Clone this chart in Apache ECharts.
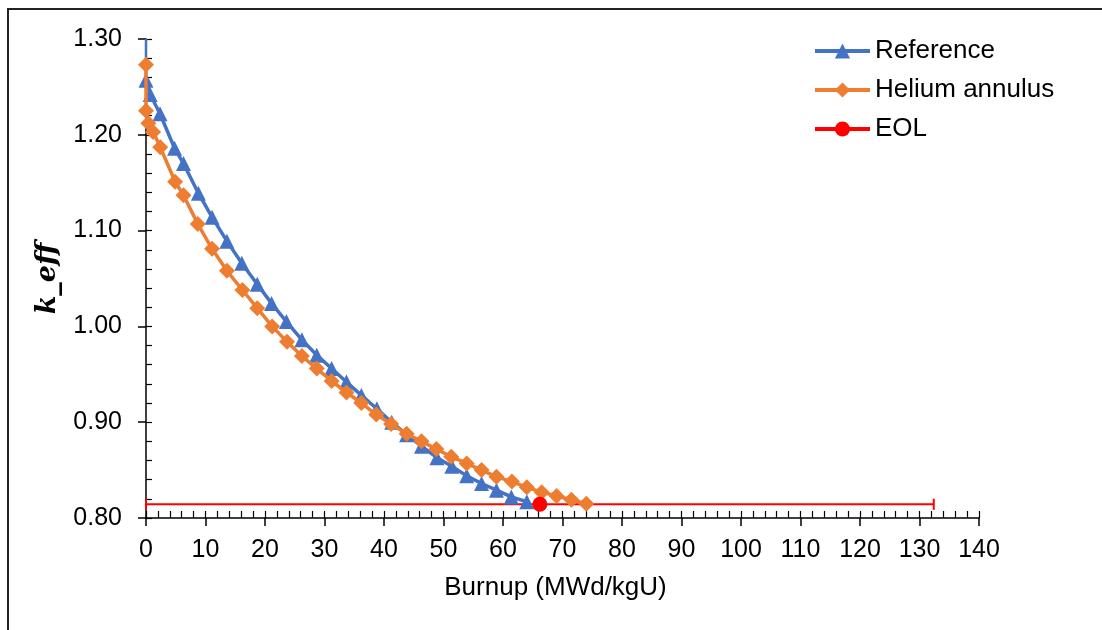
<!DOCTYPE html>
<html><head><meta charset="utf-8">
<script src="https://cdn.jsdelivr.net/npm/echarts@6/dist/echarts.min.js"></script>
<style>html,body{margin:0;padding:0;background:#fff}#c{width:1102px;height:630px}</style>
</head><body><div id="c"></div>
<script>
// Reference series (blue triangles)
const burnupRef = [0, 0.7, 2.35, 4.8, 6.3, 8.8, 11.1, 13.6, 16.1, 18.7, 21.1, 23.6, 26.2, 28.7, 31.2, 33.7, 36.2, 38.8, 41.3, 43.8, 46.3, 48.9, 51.4, 53.9, 56.4, 58.9, 61.4, 64.0];
const keffRef   = [1.257, 1.242, 1.222, 1.186, 1.170, 1.139, 1.114, 1.089, 1.066, 1.044, 1.024, 1.005, 0.986, 0.970, 0.956, 0.942, 0.928, 0.914, 0.900, 0.887, 0.875, 0.863, 0.854, 0.844, 0.836, 0.829, 0.822, 0.817];
// Helium annulus series (orange diamonds)
const burnupHe = [0, 0, 0.4, 1.2, 2.4, 4.9, 6.3, 8.7, 11.1, 13.6, 16.2, 18.7, 21.2, 23.7, 26.2, 28.7, 31.2, 33.7, 36.2, 38.7, 41.2, 43.8, 46.3, 48.8, 51.3, 53.9, 56.4, 58.9, 61.5, 64.0, 66.5, 69.0, 71.5, 74.0];
const keffHe   = [1.273, 1.225, 1.212, 1.203, 1.187, 1.151, 1.137, 1.107, 1.081, 1.058, 1.038, 1.019, 1.000, 0.984, 0.969, 0.956, 0.943, 0.931, 0.920, 0.908, 0.898, 0.888, 0.880, 0.872, 0.864, 0.857, 0.850, 0.843, 0.838, 0.832, 0.827, 0.823, 0.819, 0.815];
// EOL point with horizontal error bar
const eolBurnup = [66.2];
const eolKeff = [0.8143];
const eolErrLow = [0];
const eolErrHigh = [132.4];
// Vertical error bar on the first Reference point
const refBarBurnup = [0, 0];
const refBarKeff = [1.257, 1.30];

const zip = (a, b) => a.map((v, i) => [v, b[i]]);
const FONT = 'Liberation Sans, Arial, sans-serif';

const chart = echarts.init(document.getElementById('c'), null, {renderer: 'canvas'});
chart.setOption({
  animation: false,
  backgroundColor: '#fff',
  graphic: [{
    type: 'rect', z: -10, silent: true,
    shape: {x: 8, y: 9, width: 1200, height: 700},
    style: {fill: 'none', stroke: '#222', lineWidth: 2}
  }],
  grid: {left: 146, right: 123, top: 39, bottom: 112, containLabel: false},
  legend: {
    data: ['Reference', 'Helium annulus', 'EOL'],
    orient: 'vertical', left: 813, top: 38, padding: 0,
    itemWidth: 55, itemHeight: 19, itemGap: 13,
    lineStyle: {width: 4},
    textStyle: {fontSize: 26, fontFamily: FONT, color: '#000', lineHeight: 26}
  },
  xAxis: [{
    type: 'value', min: 0, max: 140, interval: 10,
    name: 'Burnup (MWd/kgU)', nameLocation: 'middle', nameGap: 57,
    nameTextStyle: {fontSize: 26, fontFamily: FONT, color: '#000', padding: [0, 14, 0, 0]},
    axisLine: {show: true, onZero: false, lineStyle: {color: '#000', width: 1.5}},
    axisTick: {show: true, inside: false, length: 8, lineStyle: {color: '#000', width: 1.5}},
    axisLabel: {fontSize: 25, fontFamily: FONT, color: '#000', margin: 20},
    splitLine: {show: false}
  }, {
    type: 'value', min: 0, max: 140, interval: 2, position: 'bottom',
    axisLine: {show: false},
    axisTick: {show: true, inside: true, length: 7, lineStyle: {color: '#000', width: 1.2}},
    axisLabel: {show: false}, splitLine: {show: false}
  }],
  yAxis: [{
    type: 'value', min: 0.8, max: 1.3, interval: 0.1,
    name: 'k_eff', nameLocation: 'middle', nameGap: 85,
    nameTextStyle: {fontSize: 27, fontFamily: 'DejaVu Serif, serif', fontStyle: 'italic', fontWeight: 'bold', color: '#000'},
    axisLine: {show: true, onZero: false, lineStyle: {color: '#000', width: 1.5}},
    axisTick: {show: true, inside: false, length: 8, lineStyle: {color: '#000', width: 1.5}},
    axisLabel: {fontSize: 25, fontFamily: FONT, color: '#000', margin: 24, formatter: v => v.toFixed(2)},
    splitLine: {show: false}
  }, {
    type: 'value', min: 0.8, max: 1.3, interval: 0.02, position: 'left',
    axisLine: {show: false},
    axisTick: {show: true, inside: true, length: 6, lineStyle: {color: '#000', width: 1.2}},
    axisLabel: {show: false}, splitLine: {show: false}
  }],
  series: [{
    type: 'custom', name: 'EOL error', silent: true, z: 1,
    xAxisIndex: 0, yAxisIndex: 0, clip: false,
    encode: {x: [0, 1], y: 2},
    data: eolBurnup.map((_, i) => [eolErrLow[i], eolErrHigh[i], eolKeff[i]]),
    renderItem: function (params, api) {
      const y = api.value(2);
      const p1 = api.coord([api.value(0), y]);
      const p2 = api.coord([api.value(1), y]);
      const h = 5.5;
      const st = {stroke: '#ff0000', lineWidth: 2};
      return {type: 'group', children: [
        {type: 'line', shape: {x1: p1[0], y1: p1[1], x2: p2[0], y2: p2[1]}, style: st},
        {type: 'line', shape: {x1: p1[0], y1: p1[1] - h, x2: p1[0], y2: p1[1] + h}, style: st},
        {type: 'line', shape: {x1: p2[0], y1: p2[1] - h, x2: p2[0], y2: p2[1] + h}, style: st}
      ]};
    }
  }, {
    type: 'line', name: 'refbar', silent: true, z: 2,
    data: zip(refBarBurnup, refBarKeff), showSymbol: false, symbol: 'none',
    lineStyle: {color: '#4472C4', width: 2.5}
  }, {
    type: 'line', name: 'Reference', z: 3,
    data: zip(burnupRef, keffRef),
    symbol: 'triangle', symbolSize: 15,
    lineStyle: {color: '#4472C4', width: 3.5},
    itemStyle: {color: '#4472C4'}
  }, {
    type: 'line', name: 'Helium annulus', z: 4,
    data: zip(burnupHe, keffHe),
    symbol: 'diamond', symbolSize: 16,
    lineStyle: {color: '#ED7D31', width: 3.5},
    itemStyle: {color: '#ED7D31'}
  }, {
    type: 'line', name: 'EOL', z: 5,
    data: zip(eolBurnup, eolKeff),
    symbol: 'circle', symbolSize: 15,
    lineStyle: {color: '#FF0000', width: 3.5},
    itemStyle: {color: '#FF0000'}
  }]
});
</script></body></html>
